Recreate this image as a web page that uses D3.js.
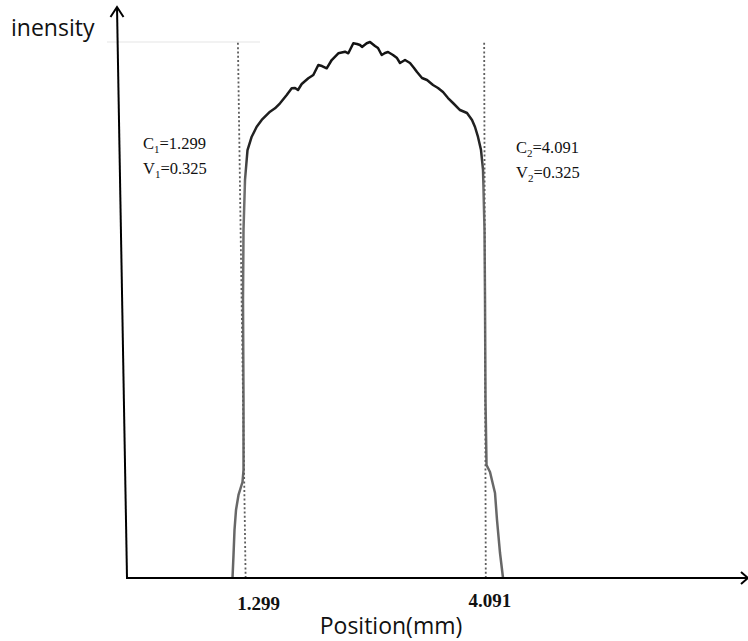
<!DOCTYPE html>
<html>
<head>
<meta charset="utf-8">
<script src="https://cdn.jsdelivr.net/npm/d3@7"></script>
<style>
  html, body { margin: 0; padding: 0; background: #fff; }
  svg { display: block; }
</style>
</head>
<body>
<svg id="chart" width="748" height="641"></svg>
<script>
// Measured intensity profile across the slit (position in mm, normalised intensity)
const positionMm = [
  1.1466, 1.1582, 1.1698, 1.1873, 1.2163, 1.2628, 1.2745, 1.2745, 1.2686, 1.2745,
  1.2919, 1.3210, 1.3698, 1.4279, 1.4860, 1.5825, 1.6407, 1.6988, 1.7767, 1.8348,
  1.8732, 1.9081, 1.9511, 2.0278, 2.0860, 2.1441, 2.1871, 2.2417, 2.2999, 2.3766,
  2.4545, 2.4929, 2.5510, 2.5940, 2.6289, 2.6521, 2.7068, 2.7451, 2.8032, 2.8381,
  2.8811, 2.9195, 2.9544, 3.0125, 3.0590, 3.0939, 3.1520, 3.2102, 3.2567, 3.2915,
  3.3497, 3.4078, 3.4776, 3.5357, 3.5938, 3.6520, 3.7101, 3.7915, 3.8728, 3.9310,
  3.9659, 4.0007, 4.0356, 4.0589, 4.0763, 4.0821, 4.0879, 4.0996, 4.1402, 4.1983,
  4.2216, 4.2565, 4.2914
];
const intensity = [
  0.0000, 0.0429, 0.0896, 0.1269, 0.1549, 0.1791, 0.2015, 0.3321, 0.5187, 0.6493,
  0.7425, 0.7985, 0.8233, 0.8420, 0.8545, 0.8700, 0.8763, 0.8856, 0.9011, 0.9136,
  0.9142, 0.9104, 0.9216, 0.9323, 0.9384, 0.9571, 0.9552, 0.9509, 0.9664, 0.9789,
  0.9819, 0.9789, 0.9976, 0.9963, 0.9944, 0.9907, 0.9976, 1.0000, 0.9925, 0.9888,
  0.9757, 0.9795, 0.9813, 0.9757, 0.9701, 0.9608, 0.9664, 0.9608, 0.9515, 0.9440,
  0.9328, 0.9291, 0.9198, 0.9142, 0.9067, 0.8955, 0.8862, 0.8731, 0.8675, 0.8545,
  0.8414, 0.8228, 0.7985, 0.7612, 0.6493, 0.5187, 0.3321, 0.2108, 0.1978, 0.1586,
  0.1082, 0.0466, 0.0000
];

// Edge positions (C) and visibility values (V)
const edgeIndex = ["1", "2"];
const edgePositions = [1.299, 4.091];
const edgeVisibility = [0.325, 0.325];

// Axis tick values and labels
const tickValues = [1.299, 4.091];
const tickLabels = ["1.299", "4.091"];

const yAxisTitle = "inensity";
const xAxisTitle = "Position(mm)";

// ---- drawing ----
const svg = d3.select("#chart");
const x = d3.scaleLinear().domain([-0.08, 7.0]).range([127, 736]);
const y = d3.scaleLinear().domain([0, 1]).range([578, 42]);

const axisLean = 0.0175;           // slight lean of the vertical axis
const edgeLean = [0.0144, 0.003];  // slight lean of the edge markers
const tickShift = [13, 4];
const annoPos = [{ x: 143, y: 149 }, { x: 516, y: 153 }];

// faint frame line along the top of the profile
svg.append("line")
  .attr("x1", 107).attr("x2", 260)
  .attr("y1", y(1)).attr("y2", y(1))
  .attr("stroke", "#eeeeee").attr("stroke-width", 1.5);

// stroke fades from dark at the plateau to grey on the flanks
const defs = svg.append("defs");
const grad = defs.append("linearGradient")
  .attr("id", "profileStroke")
  .attr("gradientUnits", "userSpaceOnUse")
  .attr("x1", 0).attr("x2", 0)
  .attr("y1", y(1)).attr("y2", y(0));
[[0, "#111"], [0.2, "#262626"], [0.27, "#6e6e6e"], [1, "#666"]].forEach(([o, c]) =>
  grad.append("stop").attr("offset", o).attr("stop-color", c));

const pts = positionMm.map((p, i) => [p, intensity[i]]);
const line = d3.line().x(d => x(d[0])).y(d => y(d[1])).curve(d3.curveLinear);
svg.append("path")
  .attr("d", line(pts))
  .attr("fill", "none")
  .attr("stroke", "url(#profileStroke)")
  .attr("stroke-width", 2.5)
  .attr("stroke-linejoin", "round");

// edge marker lines
svg.selectAll("line.edge")
  .data(edgePositions)
  .join("line")
  .attr("class", "edge")
  .attr("x1", d => x(d)).attr("y1", y(0))
  .attr("x2", (d, i) => x(d) - edgeLean[i] * (y(0) - y(1))).attr("y2", y(1))
  .attr("stroke", "#5e5e5e")
  .attr("stroke-width", 1.8)
  .attr("stroke-dasharray", "2 2.3");

// axes with arrowheads
const ax = svg.append("g").attr("stroke", "#000").attr("stroke-width", 2).attr("fill", "none");
const x0 = x.range()[0], yb = y(0);
const yTip = [x0 - axisLean * (yb - 7), 7];
ax.append("line").attr("x1", x0).attr("y1", yb).attr("x2", yTip[0]).attr("y2", yTip[1]);
ax.append("path")
  .attr("d", `M${yTip[0] - 6.5},${yTip[1] + 10}L${yTip[0]},${yTip[1]}L${yTip[0] + 6.5},${yTip[1] + 10}`);
const xTip = 748;
ax.append("line").attr("x1", x0 - 1).attr("y1", yb).attr("x2", xTip).attr("y2", yb);
ax.append("path")
  .attr("d", `M${xTip - 7},${yb - 6}L${xTip},${yb}L${xTip - 7},${yb + 6}`);

// tick labels
svg.selectAll("text.tick")
  .data(tickValues)
  .join("text")
  .attr("class", "tick")
  .attr("x", (d, i) => x(d) + tickShift[i])
  .attr("y", (d, i) => i === 0 ? 610 : 607)
  .attr("text-anchor", "middle")
  .attr("font-family", "'Liberation Serif', 'Times New Roman', serif")
  .attr("font-weight", "bold")
  .attr("font-size", 19)
  .attr("fill", "#111")
  .text((d, i) => tickLabels[i]);

// axis titles
svg.append("text")
  .attr("x", 11).attr("y", 36)
  .attr("font-family", "'Open Sans', sans-serif")
  .attr("font-size", 23)
  .attr("fill", "#111")
  .text(yAxisTitle);

svg.append("text")
  .attr("x", 391).attr("y", 634)
  .attr("text-anchor", "middle")
  .attr("font-family", "'Open Sans', sans-serif")
  .attr("font-size", 23)
  .attr("fill", "#111")
  .text(xAxisTitle);

// edge annotations: C_i = position, V_i = visibility
const fmt3 = d3.format(".3f");
edgePositions.forEach((c, i) => {
  const g = svg.append("g")
    .attr("font-family", "'Liberation Serif', 'Times New Roman', serif")
    .attr("font-size", 16.5)
    .attr("fill", "#111");
  const rows = [["C", fmt3(c)], ["V", fmt3(edgeVisibility[i])]];
  rows.forEach(([sym, val], r) => {
    const t = g.append("text").attr("x", annoPos[i].x).attr("y", annoPos[i].y + r * 25);
    t.append("tspan").text(sym);
    t.append("tspan").attr("font-size", 11).attr("dy", 3.5).text(edgeIndex[i]);
    t.append("tspan").attr("dy", -3.5).text("=" + val);
  });
});
</script>
</body>
</html>
